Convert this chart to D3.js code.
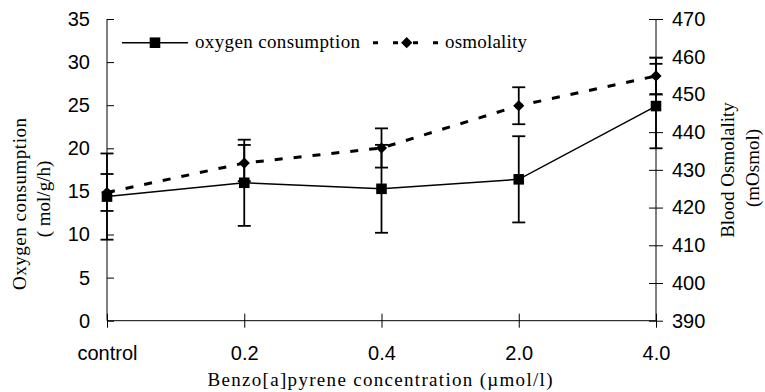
<!DOCTYPE html>
<html>
<style>
    body {
      margin: 0;
      overflow: hidden;
      background: white;
    }
    .tick text {
      font-family: "Liberation Sans", Arial, sans-serif;
      font-size: 20px;
      fill: black;
    }
    .title {
      font-family: "Liberation Serif", "Times New Roman", serif;
      font-size: 19px;
      fill: black;
    }
</style>
<script src="https://cdn.jsdelivr.net/npm/d3@7"></script>
<svg width="765" height="392"></svg>
<script>
// values
var categories = ["control", "0.2", "0.4", "2.0", "4.0"];
var oxygen = [14.4, 16.0, 15.3, 16.4, 24.9];
var oxygenErr = [5.0, 5.0, 5.1, 5.0, 4.9];
var osmolality = [424.0, 431.8, 435.8, 447.0, 454.9];
var osmolalityErr = [4.9, 4.8, 5.2, 4.9, 4.8];
var leftTicks = [0, 5, 10, 15, 20, 25, 30, 35];
var rightTicks = [390, 400, 410, 420, 430, 440, 450, 460, 470];

var plotLeft = 107, plotRight = 656, plotTop = 19, plotBottom = 320.7;

var svg = d3.select("svg");

var x = d3.scalePoint().domain(categories).range([plotLeft, plotRight]);
var yL = d3.scaleLinear().domain([0, 35]).range([plotBottom, plotTop]);
var yR = d3.scaleLinear().domain([390, 470]).range([plotBottom, plotTop]);

// axes, ticks cross the line
var xAxis = svg.append("g")
    .attr("transform", "translate(0," + plotBottom + ")")
    .call(d3.axisBottom(x).tickSize(7).tickPadding(18));
xAxis.select(".domain").attr("d", "M" + plotLeft + ",0H" + plotRight);
xAxis.selectAll(".tick line").attr("y1", -7);

var lAxis = svg.append("g")
    .attr("transform", "translate(" + plotLeft + ",0)")
    .call(d3.axisLeft(yL).tickValues(leftTicks).tickSize(7).tickPadding(10));
lAxis.select(".domain").attr("d", "M0," + plotTop + "V" + plotBottom);
lAxis.selectAll(".tick line").attr("x2", 7);

var rAxis = svg.append("g")
    .attr("transform", "translate(" + plotRight + ",0)")
    .call(d3.axisRight(yR).tickValues(rightTicks).tickSize(7).tickPadding(9));
rAxis.select(".domain").attr("d", "M0," + plotTop + "V" + plotBottom);
rAxis.selectAll(".tick line").attr("x1", -7);

svg.selectAll(".domain, .tick line").attr("stroke", "black").attr("stroke-width", 1);

// error bars
function errorBars(vals, errs, y) {
  var g = svg.append("g").attr("stroke", "black").attr("stroke-width", 1.8);
  vals.forEach(function(v, i) {
    var cx = x(categories[i]);
    g.append("line").attr("x1", cx).attr("x2", cx)
        .attr("y1", y(v - errs[i])).attr("y2", y(v + errs[i]));
    [v - errs[i], v + errs[i]].forEach(function(e) {
      g.append("line").attr("x1", cx - 6.5).attr("x2", cx + 6.5)
          .attr("y1", y(e)).attr("y2", y(e));
    });
  });
}
errorBars(oxygen, oxygenErr, yL);
errorBars(osmolality, osmolalityErr, yR);

// lines
var oxyLine = d3.line().x(function(d, i) {return x(categories[i])}).y(function(d) {return yL(d)});
var osmLine = d3.line().x(function(d, i) {return x(categories[i])}).y(function(d) {return yR(d)});

svg.append("path").datum(oxygen)
    .attr("d", oxyLine)
    .attr("fill", "none").attr("stroke", "black").attr("stroke-width", 1.5);

svg.append("path").datum(osmolality)
    .attr("d", osmLine)
    .attr("fill", "none").attr("stroke", "black").attr("stroke-width", 3)
    .attr("stroke-dasharray", "8,11");

var square = d3.symbol().type(d3.symbolSquare).size(112);
var diamond = d3.symbol().type(d3.symbolDiamond2 || d3.symbolDiamond).size(80);

svg.selectAll(".sq").data(oxygen).enter().append("path")
    .attr("d", square)
    .attr("transform", function(d, i) {return "translate(" + x(categories[i]) + "," + yL(d) + ")"});

svg.selectAll(".dm").data(osmolality).enter().append("path")
    .attr("d", diamond)
    .attr("transform", function(d, i) {return "translate(" + x(categories[i]) + "," + yR(d) + ")"});

// legend
var lg = svg.append("g");
lg.append("line").attr("x1", 122).attr("x2", 188).attr("y1", 42.7).attr("y2", 42.7)
    .attr("stroke", "black").attr("stroke-width", 1.5);
lg.append("path").attr("d", square).attr("transform", "translate(155,42.7)");
lg.append("text").attr("class", "title").attr("x", 195).attr("y", 48)
    .attr("textLength", 165).text("oxygen consumption");
lg.append("line").attr("x1", 373).attr("x2", 440).attr("y1", 42.7).attr("y2", 42.7)
    .attr("stroke", "black").attr("stroke-width", 3).attr("stroke-dasharray", "5,15");
lg.append("path").attr("d", diamond).attr("transform", "translate(406.7,42.7)");
lg.append("text").attr("class", "title").attr("x", 445).attr("y", 48)
    .attr("textLength", 82).text("osmolality");

// axis titles
svg.append("text").attr("class", "title")
    .attr("text-anchor", "middle")
    .attr("x", 380).attr("y", 386)
    .attr("textLength", 345)
    .text("Benzo[a]pyrene concentration (µmol/l)");

svg.append("text").attr("class", "title")
    .attr("text-anchor", "middle")
    .attr("transform", "translate(26,204) rotate(-90)")
    .attr("textLength", 172)
    .text("Oxygen consumption");
svg.append("text").attr("class", "title")
    .attr("text-anchor", "middle")
    .attr("transform", "translate(50,199) rotate(-90)")
    .text("( mol/g/h)");

svg.append("text").attr("class", "title")
    .attr("text-anchor", "middle")
    .attr("transform", "translate(734,170) rotate(-90)")
    .text("Blood Osmolality");
svg.append("text").attr("class", "title")
    .attr("text-anchor", "middle")
    .attr("transform", "translate(759,168) rotate(-90)")
    .text("(mOsmol)");
</script>
</html>
